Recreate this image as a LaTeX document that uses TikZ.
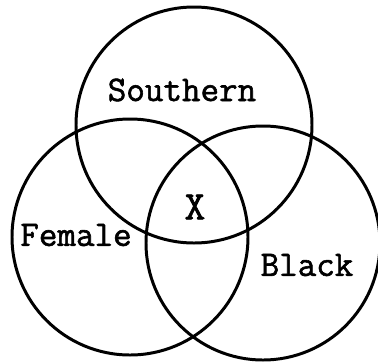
\documentclass[tikz,border=0pt]{standalone}
\usepackage{fontspec}
\newfontfamily\typewfont[FakeBold=1.6]{Latin Modern Mono}
\usepackage{tikz}
\usetikzlibrary{positioning}
\tikzset{
    every node/.append style={align=center},
    set/.style={circle,draw=black,line width=1.7pt,inner sep=0pt},
    lbl/.style={font=\fontsize{20.5}{22}\selectfont\typewfont,inner sep=1pt}
}
\begin{document}
\begin{tikzpicture}
    \useasboundingbox (0,0) rectangle (7.56,7.26);
    \node[set,minimum size=4.72cm] (south) at (3.88,4.76) {};
    \node[set,minimum size=4.72cm] (fem)   at (2.60,2.52) {};
    \node[set,minimum size=4.68cm] (blk)   at (5.26,2.40) {};

    \node[lbl] (southlbl) at (3.64,5.46) {Southern};
    \node[lbl] (femlbl)   at (1.52,2.56) {Female};
    \node[lbl] (blklbl)   at (6.14,1.96) {Black};
    \node[lbl,font=\fontsize{23}{24}\selectfont\typewfont] (mark) at (3.90,3.12) {X};
\end{tikzpicture}
\end{document}
